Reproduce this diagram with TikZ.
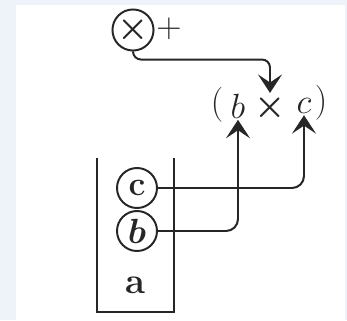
\documentclass[tikz,border=0pt]{standalone}
\usepackage{amsmath,amssymb,bm}
\usetikzlibrary{arrows.meta,positioning}
\definecolor{ink}{HTML}{262626}
\definecolor{wash}{HTML}{EEF3FA}
\tikzset{
  ring/.style={circle,draw=ink,line width=1.4pt,minimum size=10mm,inner sep=0pt,text=ink},
  sym/.style={inner sep=1pt,text=ink,font=\fontsize{28}{30}\selectfont},
  wall/.style={draw=ink,line width=1.5pt},
  ar/.style={-{Stealth[length=4.6mm,width=6mm,inset=2mm]},draw=ink,line width=1.4pt,rounded corners=3mm},
}
\begin{document}
\begin{tikzpicture}[x=0.25mm,y=-0.25mm]
  \fill[wash] (0,0) rectangle (347,320);
  \fill[white] (16,5) rectangle (345,320);
  % operator on top
  \node[ring,font=\fontsize{30}{30}\selectfont] (op) at (133,30) {$\bm{\times}$};
  \node[sym] (plus) at (169,29) {$+$};
  % the product
  \node[sym] (lp) at (217,105) {$($};
  \node[sym] (nb) at (238,106) {$b$};
  \node[sym,font=\fontsize{32}{32}\selectfont] (tm) at (270,108) {$\bm{\times}$};
  \node[sym] (nc) at (304,106) {$c$};
  \node[sym] (rp) at (321,103) {$)$};
  % the stack
  \draw[wall] (97,158) -- (97,312) -- (174,312) -- (174,158);
  \node[ring,font=\fontsize{24}{24}\selectfont\bfseries] (sc) at (137,188) {c};
  \node[ring,font=\fontsize{24}{24}\selectfont] (sb) at (137,231) {$\bm{b}$};
  \node[sym,font=\fontsize{26}{28}\selectfont\bfseries] (la) at (135,285) {a};
  % connectors
  \draw[ar,rounded corners=2mm] (op.south) -- ++(0,8) -| (tm.north);
  \draw[ar] (sb.east) -| (nb.south);
  \draw[ar] (sc.east) -| (nc.south);
\end{tikzpicture}
\end{document}
